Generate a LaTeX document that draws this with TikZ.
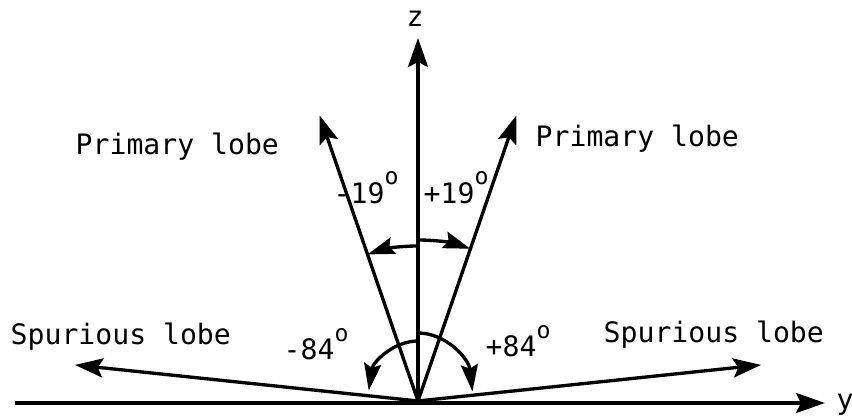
\documentclass[tikz,border=0pt]{standalone}
\usepackage{fontspec}
\newfontfamily\lobefont{DejaVu Sans Mono}
\usetikzlibrary{arrows.meta,positioning}
\newcommand{\degsup}{\raisebox{5.4pt}{\fontsize{6.6}{7}\selectfont o}}

\begin{document}
\begin{tikzpicture}[
    x=0.01cm, y=0.01cm,
    ax/.style={line width=1pt, -{Stealth[length=2.9mm, width=2mm, inset=0.5mm]}},
    arr/.style={line width=0.95pt, -{Stealth[length=2.8mm, width=1.9mm, inset=0.5mm]}},
    ang/.style={line width=0.95pt, -{Stealth[length=2.7mm, width=1.7mm, inset=0.4mm]}},
    lab/.style={font=\lobefont\fontsize{8}{9}\selectfont, inner sep=0pt, anchor=base west}
]
  \useasboundingbox (-418,-18) rectangle (434,401);

  % origin and lobe directions
  \coordinate (O) at (0,0);
  \coordinate (ztip) at (0,363);
  \coordinate (yend) at (-403,-2);
  \coordinate (ytip) at (407,-2);
  \coordinate (pl) at (109:302);
  \coordinate (pr) at (71:302);
  \coordinate (sl) at (174:345);
  \coordinate (sr) at (6:345);

  % axes
  \draw[ax] (O) -- (ztip);
  \draw[ax] (yend) -- (ytip);
  \node[lab, anchor=base] (zlab) at (-3,374) {z};
  \node[lab, anchor=base] (ylab) at (427,-9) {y};

  % lobes
  \draw[arr] (O) -- (pl);
  \draw[arr] (O) -- (pr);
  \draw[arr] (O) -- (sl);
  \draw[arr] (O) -- (sr);

  % angles
  \draw[ang] ([shift={(90:155)}]O) arc[start angle=90, end angle=109, radius=155];
  \draw[ang] ([shift={(90:161)}]O) arc[start angle=90, end angle=71, radius=161];
  \draw[ang] ([shift={(90:60)}]O) arc[start angle=90, end angle=170, x radius=50, y radius=60];
  \draw[ang] ([shift={(90:68)}]O) arc[start angle=90, end angle=8, x radius=55, y radius=68];

  % labels
  \node[lab] (plabl) at (-343,246) {Primary lobe};
  \node[lab] (plabr) at (117,254) {Primary lobe};
  \node[lab] (slabl) at (-408,56) {Spurious lobe};
  \node[lab] (slabr) at (185,58) {Spurious lobe};
  \node[lab] (angpl) at (-85,197) {-19\degsup};
  \node[lab] (angpr) at (5,197) {+19\degsup};
  \node[lab] (angsl) at (-135,41) {-84\degsup};
  \node[lab] (angsr) at (67,44) {+84\degsup};
\end{tikzpicture}
\end{document}
